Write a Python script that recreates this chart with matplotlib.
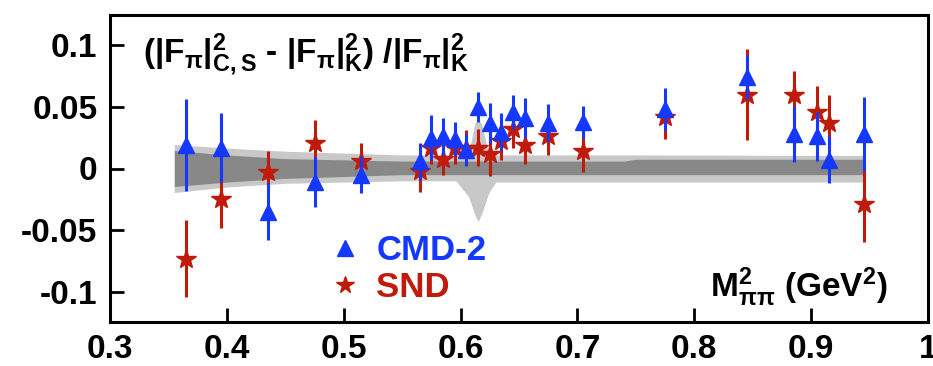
import matplotlib
matplotlib.use('Agg')
from matplotlib import pyplot as plt
from matplotlib.lines import Line2D

# CMD-2 punkty
cmd_x = [0.365, 0.395, 0.435, 0.475, 0.515, 0.565, 0.575, 0.585, 0.595, 0.605, 0.615, 0.625,
         0.635, 0.645, 0.655, 0.675, 0.705, 0.775, 0.845, 0.885, 0.905, 0.915, 0.945]
cmd_y = [0.019, 0.017, -0.035, -0.011, -0.005, 0.006, 0.025, 0.026, 0.024, 0.015, 0.050, 0.037,
         0.030, 0.046, 0.041, 0.037, 0.038, 0.048, 0.074, 0.028, 0.026, 0.007, 0.028]
cmd_err = [0.037, 0.028, 0.023, 0.020, 0.015, 0.015, 0.018, 0.015, 0.014, 0.013, 0.012, 0.016,
           0.015, 0.014, 0.016, 0.015, 0.013, 0.017, 0.018, 0.023, 0.020, 0.019, 0.030]

# SND punkty
snd_x = [0.365, 0.395, 0.435, 0.475, 0.515, 0.565, 0.575, 0.585, 0.595, 0.605, 0.615, 0.625,
         0.635, 0.645, 0.655, 0.675, 0.705, 0.775, 0.845, 0.885, 0.905, 0.915, 0.945]
snd_y = [-0.073, -0.025, -0.003, 0.021, 0.006, -0.002, 0.017, 0.008, 0.017, 0.017, 0.017, 0.012,
         0.022, 0.032, 0.019, 0.026, 0.014, 0.042, 0.060, 0.060, 0.046, 0.037, -0.029]
snd_err = [0.031, 0.023, 0.017, 0.018, 0.015, 0.017, 0.013, 0.013, 0.013, 0.014, 0.015, 0.018,
           0.015, 0.015, 0.015, 0.015, 0.017, 0.018, 0.037, 0.019, 0.021, 0.023, 0.031]

# pasmo niepewnosci (jasne i ciemne)
band_x = [0.355, 0.40, 0.45, 0.55, 0.596, 0.607, 0.612, 0.615, 0.618, 0.624, 0.630, 0.74, 0.75, 0.945]
light_hi = [0.0195, 0.0165, 0.014, 0.011, 0.011, 0.012, 0.036, 0.041, 0.036, 0.012, 0.011, 0.011, 0.011, 0.0105]
light_lo = [-0.0195, -0.015, -0.012, -0.010, -0.010, -0.023, -0.037, -0.043, -0.037, -0.020, -0.011, -0.011, -0.011, -0.011]
dark_hi = [0.0146, 0.011, 0.008, 0.006, 0.006, 0.006, 0.006, 0.006, 0.006, 0.006, 0.006, 0.006, 0.0075, 0.0075]
dark_lo = [-0.0146, -0.011, -0.008, -0.005, -0.005, -0.005, -0.005, -0.005, -0.005, -0.005, -0.005, -0.005, -0.005, -0.005]

xticks = [0.3, 0.4, 0.5, 0.6, 0.7, 0.8, 0.9, 1.0]
xlabels = ['0.3', '0.4', '0.5', '0.6', '0.7', '0.8', '0.9', '1']
yticks = [-0.1, -0.05, 0, 0.05, 0.1]
ylabels = ['-0.1', '-0.05', '0', '0.05', '0.1']

BLUE = '#1438ff'
RED = '#c01a0a'

plt.rcParams['font.family'] = 'Liberation Sans'
plt.rcParams['font.weight'] = 'bold'
plt.rcParams['mathtext.fontset'] = 'custom'
plt.rcParams['mathtext.rm'] = 'Liberation Sans:bold'
plt.rcParams['mathtext.it'] = 'Liberation Sans:bold'
plt.rcParams['mathtext.bf'] = 'Liberation Sans:bold'
plt.rcParams['mathtext.default'] = 'rm'
plt.rcParams['axes.unicode_minus'] = False

fig = plt.figure(figsize=(9.33, 3.66), dpi=100)
ax = fig.add_axes([110 / 933, 44 / 366, 818 / 933, 307 / 366])

ax.fill_between(band_x, light_lo, light_hi, color='#c8c8c8', lw=0, zorder=1)
ax.fill_between(band_x, dark_lo, dark_hi, color='#888888', lw=0, zorder=2)

ax.errorbar(snd_x, snd_y, yerr=snd_err, fmt='*', color=RED, ms=15, elinewidth=2.2,
            capsize=0, zorder=3)
ax.errorbar(cmd_x, cmd_y, yerr=cmd_err, fmt='^', color=BLUE, ms=11, elinewidth=2.2,
            capsize=0, zorder=4)

ax.set_xlim(0.3, 1.0)
ax.set_ylim(-0.1245, 0.1245)
ax.set_xticks(xticks)
ax.set_xticklabels(xlabels)
ax.set_yticks(yticks)
ax.set_yticklabels(ylabels)
ax.tick_params(direction='in', length=10, width=2, labelsize=24)
ax.tick_params(axis='x', pad=9)
ax.tick_params(axis='y', pad=9)
for s in ax.spines.values():
    s.set_linewidth(2.2)

# legenda
uchwyty = [Line2D([], [], ls='none', marker='^', ms=12, color=BLUE),
           Line2D([], [], ls='none', marker='*', ms=13, color=RED)]
ax.legend(uchwyty, ['CMD-2', 'SND'], loc='center left', bbox_to_anchor=(0.245, 0.172),
          frameon=False, labelcolor='linecolor', prop={'size': 25, 'weight': 'bold'},
          handlelength=1.0, handletextpad=0.4, labelspacing=0.12, borderpad=0)

ax.text(0.04, 0.8436, r'$(|F_\pi|^2_{C,S}$ - $|F_\pi|^2_K)$ /$|F_\pi|^2_K$',
        transform=ax.transAxes, fontsize=24, fontweight='bold', va='baseline')
ax.text(0.951, 0.081, r'$M^2_{\pi\pi}$ (GeV$^2$)', transform=ax.transAxes,
        fontsize=24, fontweight='bold', ha='right', va='baseline')

fig.savefig('out.png', dpi=100)
